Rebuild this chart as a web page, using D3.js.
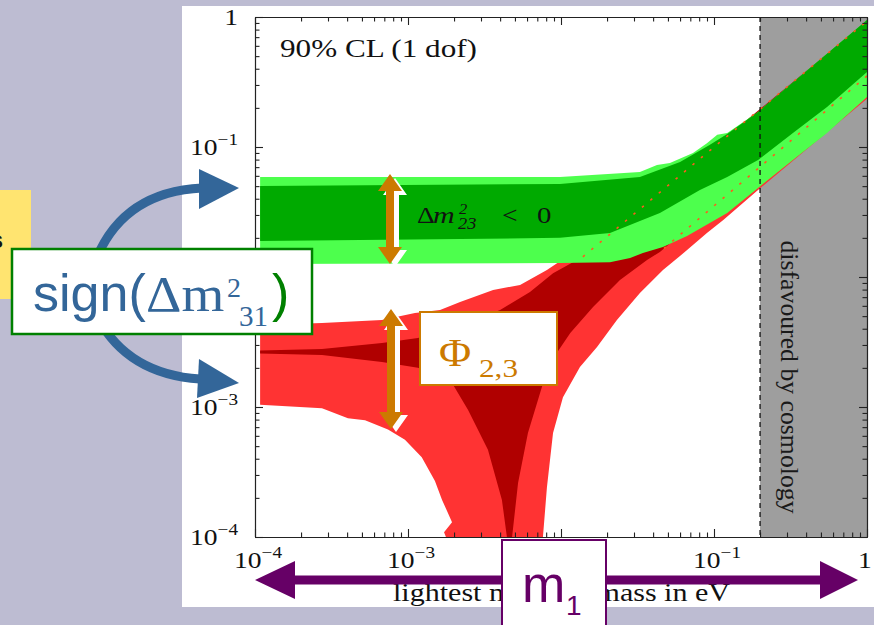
<!DOCTYPE html>
<html>
<head>
<meta charset="utf-8">
<script src="https://cdn.jsdelivr.net/npm/d3@7/dist/d3.min.js"></script>
<style>
  html, body { margin: 0; padding: 0; background: #bdbcd2; }
  svg { display: block; }
</style>
</head>
<body>
<svg id="chart" width="874" height="625"></svg>
<script>
// ---------- data: allowed regions of m_ee (eV) vs lightest neutrino mass (eV) ----------
const xTicks = [1e-4, 1e-3, 1e-2, 1e-1, 1];
const yTicks = [1e-4, 1e-3, 1e-2, 1e-1, 1];
const tickExponents = ["\u22124", "\u22123", "\u22122", "\u22121", ""];
const cosmologyLimit = 0.2;

// normal hierarchy, 3 sigma outline
const nh3Sigma = [
  [1.08e-4, 0.00427], [2.74e-4, 0.00442], [6.76e-4, 0.00467], [1.11e-3, 0.00528],
  [1.62e-3, 0.00557], [2.19e-3, 0.00642], [3.60e-3, 0.00794], [5.40e-3, 0.00868],
  [8.09e-3, 0.0113], [1.09e-2, 0.0143], [2.09e-2, 0.0238], [8.09e-2, 0.090],
  [0.365, 0.31], [1.0, 0.884],
  [1.0, 0.235], [0.194, 0.0467], [0.115, 0.0274], [0.0899, 0.0218], [0.0667, 0.0161],
  [0.0464, 0.0113], [0.0328, 0.00753], [0.0232, 0.00467], [0.0172, 0.00290],
  [0.0133, 0.00203], [0.0103, 0.00119], [0.00887, 0.00063], [0.00809, 0.00024],
  [0.00762, 1e-4], [1.77e-3, 1e-4], [1.72e-3, 1.09e-4], [1.94e-3, 1.30e-4],
  [1.67e-3, 1.93e-4], [1.50e-3, 2.7e-4], [1.23e-3, 4.1e-4], [9.55e-4, 5.6e-4],
  [7.40e-4, 6.7e-4], [5.24e-4, 7.9e-4], [4.05e-4, 8.2e-4], [2.74e-4, 9.8e-4],
  [1.08e-4, 1.04e-3]
];

// normal hierarchy, 1 sigma outline in three pieces
const nh1Top = [
  [1.08e-4, 0.00272], [2.74e-4, 0.00279], [6.76e-4, 0.00311], [1.16e-3, 0.00340],
  [2.19e-3, 0.00427], [4.00e-3, 0.00557], [6.27e-3, 0.00767], [8.87e-3, 0.0107],
  [1.39e-2, 0.0143], [0.1, 0.1], [1.0, 0.93]
];
const nh1Right = [
  [1.0, 0.352], [0.0443, 0.0156], [0.0365, 0.0135], [0.0243, 0.00948],
  [0.0162, 0.00588], [0.0115, 0.00371], [0.00847, 0.00218], [0.00751, 0.00143],
  [0.00608, 0.00063], [0.00524, 0.00026], [0.00479, 1e-4]
];
const nh1Left = [
  [0.00443, 1e-4], [0.00411, 1.93e-4], [0.00333, 4.7e-4], [0.00247, 9.5e-4],
  [0.00194, 0.00153], [0.00139, 0.00186], [0.00116, 0.00200], [6.76e-4, 0.00222],
  [2.74e-4, 0.00251], [1.08e-4, 0.00258]
];

// inverted hierarchy, 3 sigma and 1 sigma outlines
const ih3Sigma = [
  [1.08e-4, 0.0588], [9.85e-3, 0.0588], [0.0328, 0.0643], [0.0424, 0.0727],
  [0.0515, 0.0753], [0.0729, 0.090], [0.0899, 0.107], [0.105, 0.124], [0.122, 0.128],
  [0.194, 0.186], [1.0, 0.95],
  [1.0, 0.242], [0.548, 0.128], [0.328, 0.0794], [0.194, 0.0484], [0.122, 0.0311],
  [0.0667, 0.0207], [0.0464, 0.0170], [0.0343, 0.0153], [0.0283, 0.0140],
  [0.0209, 0.0130], [9.85e-3, 0.0128], [1.08e-4, 0.0126]
];
const ih1Sigma = [
  [1.08e-4, 0.0501], [9.85e-3, 0.0519], [0.0328, 0.0588], [0.060, 0.0767],
  [0.0941, 0.104], [0.122, 0.126], [0.194, 0.186], [1.0, 0.95],
  [1.0, 0.378], [0.548, 0.203], [0.328, 0.128], [0.194, 0.0794], [0.122, 0.0588],
  [0.0809, 0.0467], [0.0443, 0.0311], [0.0209, 0.0218], [9.85e-3, 0.0200],
  [1.08e-4, 0.0189]
];

// ---------- layout ----------
const W = 874, H = 625;
const plot = { left: 255, right: 867, top: 17, bottom: 537 };
const SERIF = "'Liberation Serif', 'Times New Roman', serif";
const SANS = "'Liberation Sans', Arial, sans-serif";

const svg = d3.select("#chart");
svg.append("rect").attr("width", W).attr("height", H).attr("fill", "#bdbcd2");
svg.append("rect").attr("x", 182).attr("y", 6).attr("width", W - 182).attr("height", 601).attr("fill", "#ffffff");

const x = d3.scaleLog().domain([1e-4, 1]).range([plot.left, plot.right]);
const y = d3.scaleLog().domain([1e-4, 1]).range([plot.bottom, plot.top]);
const line = d3.line().x(d => x(d[0])).y(d => y(d[1]));

svg.append("defs").append("clipPath").attr("id", "plotClip")
  .append("rect").attr("x", plot.left).attr("y", plot.top)
  .attr("width", plot.right - plot.left).attr("height", plot.bottom - plot.top);

const area = svg.append("g").attr("clip-path", "url(#plotClip)");

// region excluded by cosmology
area.append("rect")
  .attr("x", x(cosmologyLimit)).attr("y", plot.top)
  .attr("width", plot.right - x(cosmologyLimit)).attr("height", plot.bottom - plot.top)
  .attr("fill", "#9e9e9e");

// bands
area.append("path").attr("d", line(nh3Sigma) + "Z").attr("fill", "#ff3333");
area.append("path").attr("d", line(nh1Top.concat(nh1Right, nh1Left)) + "Z").attr("fill", "#b00000");
area.append("path").attr("d", line(ih3Sigma) + "Z").attr("fill", "#4dff4d");
area.append("path").attr("d", line(ih1Sigma) + "Z").attr("fill", "#00aa00");

// normal-hierarchy 1 sigma edges shown through the inverted band
[nh1Top.filter(d => d[0] >= 0.0139), nh1Right.filter(d => d[0] >= 0.044)].forEach(seg => {
  area.append("path").attr("d", line(seg)).attr("fill", "none")
    .attr("stroke", "#ff5a1e").attr("stroke-width", 1.6).attr("stroke-dasharray", "2.5,8.5");
});

// cosmology boundary
area.append("line")
  .attr("x1", x(cosmologyLimit)).attr("x2", x(cosmologyLimit))
  .attr("y1", plot.top).attr("y2", plot.bottom)
  .attr("stroke", "#111").attr("stroke-width", 1.3).attr("stroke-dasharray", "5,4");

// texts inside the plot
svg.append("text")
  .attr("transform", "translate(789,377) rotate(90)")
  .attr("text-anchor", "middle").attr("dy", "0.33em")
  .attr("font-family", SERIF).attr("font-size", 25).attr("fill", "#1a1a1a")
  .attr("textLength", 273).attr("lengthAdjust", "spacingAndGlyphs")
  .text("disfavoured by cosmology");

svg.append("text").attr("x", 280).attr("y", 57)
  .attr("font-family", SERIF).attr("font-size", 25).attr("fill", "#111")
  .attr("textLength", 197).attr("lengthAdjust", "spacingAndGlyphs")
  .text("90% CL (1 dof)");

function txt(parent, px, py, str, o) {
  const t = parent.append("text")
    .attr("transform", `translate(${px},${py}) scale(${o.sx || 1},1)`)
    .attr("font-family", o.family || SERIF).attr("font-size", o.size)
    .attr("fill", o.fill || "#111").attr("text-anchor", o.anchor || "start")
    .text(str);
  if (o.italic) t.attr("font-style", "italic");
  return t;
}
txt(svg, 417, 223, "\u0394", { size: 24, sx: 1.15 });
txt(svg, 433, 223, "m", { size: 24, sx: 1.25, italic: true });
txt(svg, 459, 214, "2", { size: 15, sx: 1.1, italic: true });
txt(svg, 458, 229, "23", { size: 16, sx: 1.15, italic: true });
txt(svg, 502, 223, "<", { size: 24, sx: 1.15 });
txt(svg, 537, 223, "0", { size: 24, sx: 1.2 });

// ---------- frame, ticks ----------
const isMajor = v => Math.abs(Math.log10(v) - Math.round(Math.log10(v))) < 1e-6;
const minorX = x.ticks().filter(v => !isMajor(v));
const minorY = y.ticks().filter(v => !isMajor(v));

function frame(makeAxis, tr, values, size) {
  svg.append("g").attr("transform", tr)
    .call(makeAxis().tickValues(values).tickSize(size).tickSizeOuter(0).tickFormat(""))
    .call(g => g.selectAll("path, line").attr("stroke", "#222").attr("stroke-width", 1.1));
}
[[xTicks, -8], [minorX, -4.5]].forEach(([vals, s]) => {
  frame(() => d3.axisBottom(x), `translate(0,${plot.bottom})`, vals, s);
  frame(() => d3.axisTop(x), `translate(0,${plot.top})`, vals, s);
});
[[yTicks, -8], [minorY, -4.5]].forEach(([vals, s]) => {
  frame(() => d3.axisLeft(y), `translate(${plot.left},0)`, vals, s);
  frame(() => d3.axisRight(y), `translate(${plot.right},0)`, vals, s);
});

// tick labels
const labels = svg.append("g").attr("font-family", SERIF).attr("fill", "#111");
function powLabel(px, py, exp, anchor) {
  const t = labels.append("text")
    .attr("transform", `translate(${px},${py}) scale(1.2,1)`)
    .attr("text-anchor", anchor).attr("font-size", 23);
  if (exp === "") { t.text("1"); return; }
  t.append("tspan").text("10");
  t.append("tspan").attr("font-size", 16).attr("dy", -10).text(exp);
}
yTicks.forEach((v, i) => powLabel(238, y(v) + 8, tickExponents[i], "end"));
xTicks.forEach((v, i) => powLabel(Math.min(x(v) + 3, 865), 568, tickExponents[i], "middle"));

svg.append("text").attr("x", 393).attr("y", 601)
  .attr("font-family", SERIF).attr("font-size", 26).attr("fill", "#111")
  .attr("textLength", 337).attr("lengthAdjust", "spacingAndGlyphs")
  .text("lightest neutrino mass in eV");

// ---------- annotations ----------
const ann = svg.append("g");

ann.append("rect").attr("x", 0).attr("y", 190).attr("width", 31).attr("height", 109).attr("fill", "#ffe470");
ann.append("text").attr("x", 3).attr("y", 248).attr("text-anchor", "end")
  .attr("font-family", SANS).attr("font-weight", "bold").attr("font-size", 24).attr("fill", "#111").text("s");

// curved arrows from the sign box
const BLUE = "#336699";
ann.append("path").attr("d", "M95,262 Q122,192 202,188")
  .attr("fill", "none").attr("stroke", BLUE).attr("stroke-width", 9);
ann.append("path").attr("d", "M239,188 L199,169 L199,209 Z").attr("fill", BLUE);
ann.append("path").attr("d", "M98,318 Q128,374 200,379")
  .attr("fill", "none").attr("stroke", BLUE).attr("stroke-width", 9);
ann.append("path").attr("d", "M239,383 L199,359 L197,398 Z").attr("fill", BLUE);

// sign box
ann.append("rect").attr("x", 12).attr("y", 249).attr("width", 300).attr("height", 85)
  .attr("fill", "#fff").attr("stroke", "#008000").attr("stroke-width", 2.5);
txt(ann, 33, 311, "sign(", { family: SANS, size: 52, fill: BLUE });
txt(ann, 146, 311, "\u0394m", { size: 51, sx: 1.08, fill: BLUE });
txt(ann, 227, 297, "2", { size: 28, fill: BLUE });
txt(ann, 239, 326, "31", { size: 29, fill: BLUE });
txt(ann, 272, 311, ")", { family: SANS, size: 52, fill: "#008000" });

// vertical double arrows
const ORANGE = "#cc7a00";
function doubleArrowV(px, y1, y2, fill) {
  const hw = 12, hh = 17, sw = 4;
  ann.append("path")
    .attr("d", `M${px},${y1} L${px + hw},${y1 + hh} L${px + sw},${y1 + hh} L${px + sw},${y2 - hh} ` +
               `L${px + hw},${y2 - hh} L${px},${y2} L${px - hw},${y2 - hh} L${px - sw},${y2 - hh} ` +
               `L${px - sw},${y1 + hh} L${px - hw},${y1 + hh} Z`)
    .attr("fill", fill);
}
doubleArrowV(395, 178, 267, "#fff");
doubleArrowV(390, 174, 264, ORANGE);
doubleArrowV(396, 313, 432, "#fff");
doubleArrowV(391, 309, 429, ORANGE);

// phase box
ann.append("rect").attr("x", 420).attr("y", 312).attr("width", 137).attr("height", 73)
  .attr("fill", "#fff").attr("stroke", ORANGE).attr("stroke-width", 2);
txt(ann, 439, 366, "\u03A6", { size: 40, sx: 1.1, fill: ORANGE });
txt(ann, 479, 377, "2,3", { size: 26, sx: 1.2, fill: ORANGE });

// horizontal double arrow along the mass axis
const PURPLE = "#660066";
ann.append("path")
  .attr("d", "M255,580 L295,561 L295,575.5 L820,575.5 L820,561 L858,580 L820,599 L820,584.5 L295,584.5 L295,599 Z")
  .attr("fill", PURPLE);

// m1 box
ann.append("rect").attr("x", 502).attr("y", 540).attr("width", 104).attr("height", 100)
  .attr("fill", "#fff").attr("stroke", PURPLE).attr("stroke-width", 2);
txt(ann, 522, 602, "m", { family: SANS, size: 52, fill: PURPLE });
txt(ann, 566, 615, "1", { family: SANS, size: 28, fill: PURPLE });
</script>
</body>
</html>
